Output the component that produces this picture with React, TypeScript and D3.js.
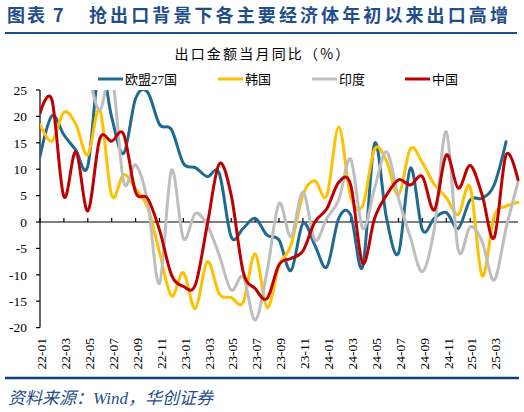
import * as d3 from 'd3'

// month categories as labelled on the axis
const categories = [
  '22-01', '22-02', '22-03', '22-04', '22-05', '22-06', '22-07', '22-08', '22-09', '22-10', '22-11', '22-12',
  '23-01', '23-02', '23-03', '23-04', '23-05', '23-06', '23-07', '23-08', '23-09', '23-10', '23-11', '23-12',
  '24-01', '24-02', '24-03', '24-04', '24-05', '24-06', '24-07', '24-08', '24-09', '24-10', '24-11', '24-12',
  '25-01', '25-02', '25-03', '25-04', '25-05',
]

const euValues = [
  12.4, 20.1, 16.5, 13.6, 10.6, 30.0, 19.8, 13.0, 23.4, 24.6, 18.5, 17.5,
  11.1, 10.3, 8.6, 9.2, -2.8, -1.2, 0.7, -2.5, -3.4, -9.2, -0.3, -4.4,
  -8.5, 0.7, 1.3, -8.5, 14.9, 0.7, -5.9, 10.2, -1.5, 0.7, 1.8, -1.2,
  4.2, 4.5, 7.0, 15.2,
]

const koreaValues = [
  18.5, 15.3, 20.8, 18.5, 12.7, 21.3, 5.0, 9.0, 6.3, 2.8, -5.7, -14.0,
  -9.6, -16.4, -7.5, -13.6, -14.3, -15.2, -6.0, -16.2, -8.3, -4.4, 5.1, 7.8,
  5.0, 18.0, 4.8, 3.1, 13.8, 11.5, 5.1, 13.9, 11.2, 7.1, 4.6, 1.4,
  6.6, -10.2, 1.0, 3.0, 3.7,
]

const indiaValues = [
  38.0, 30.0, 29.0, 33.0, 28.0, 21.2, 28.0, 7.6, 10.8, 3.9, -11.6, 9.8,
  -3.1, 1.6, -0.6, -6.3, -12.9, -10.4, -18.6, -9.4, 3.5, -2.8, 5.7, -3.4,
  0.7, 4.2, 11.9, -1.2, 6.4, 13.3, 4.5, -3.0, -9.4, -1.2, 17.1, -5.3,
  -0.9, -3.7, -11.0, -1.2, 7.6,
]

const chinaValues = [
  20.6, 23.1, 4.8, 13.3, 2.1, 15.7, 15.3, 16.6, 5.7, 4.5, -1.5, -10.0,
  -12.2, -11.9, -0.5, 11.0, 5.1, -9.4, -12.6, -14.5, -8.1, -6.9, -5.5, 0.0,
  2.5, 7.5, 7.0, -7.8, 0.7, 5.1, 8.0, 7.0, 8.6, 2.3, 12.7, 6.4,
  10.7, 5.1, -3.0, 12.7, 8.0,
]

const seriesNames = ['欧盟27国', '韩国', '印度', '中国']
const seriesColors = ['#1F6A90', '#FFC000', '#BEBEBE', '#C00000']
const seriesValues = [euValues, koreaValues, indiaValues, chinaValues]

const yTicks = [25, 20, 15, 10, 5, 0, -5, -10, -15, -20]

const width = 524
const height = 412
const plotLeft = 40
const plotRight = 518
const plotTop = 90
const plotBottom = 327.6

const serif = "'Liberation Serif', 'Noto Sans CJK SC', serif"
const cjk = "'Noto Sans CJK SC', sans-serif"
const navy = '#1F4E8C'

export default function App() {
  const x = d3.scalePoint<string>().domain(categories).range([plotLeft, plotRight])
  const y = d3.scaleLinear().domain([-20, 25]).range([plotBottom, plotTop])

  const line = d3
    .line<number>()
    .x((_, i) => x(categories[i]) ?? 0)
    .y(d => y(d))
    .curve(d3.curveCardinal.tension(0))

  const xTickCats = categories.filter((_, i) => i % 2 === 0 && i <= 38)

  const legendX = [98, 218, 312, 405]

  return (
    <svg
      width={width}
      height={height}
      style={{ position: 'absolute', left: 0, top: 0, background: '#fff' }}
    >
      <defs>
        <clipPath id="plot-clip">
          <rect x={plotLeft} y={y(25)} width={plotRight - plotLeft + 2} height={y(-20) - y(25)} />
        </clipPath>
      </defs>

      {/* title */}
      <text x={7} y={22} fontFamily={cjk} fontWeight={700} fontSize={18} fill={navy} letterSpacing={2}>
        图表 7
      </text>
      <text x={89} y={22} fontFamily={cjk} fontWeight={700} fontSize={18} fill={navy} letterSpacing={3.1}>
        抢出口背景下各主要经济体年初以来出口高增
      </text>
      <line x1={5} x2={517} y1={33} y2={33} stroke={navy} strokeWidth={2} />

      {/* subtitle */}
      <text x={263} y={59} textAnchor="middle" fontFamily={cjk} fontSize={14} fill="#000" letterSpacing={2.2}>
        出口金额当月同比（%）
      </text>

      {/* legend */}
      {seriesNames.map((name, k) => (
        <g key={name} transform={`translate(${legendX[k]},79)`}>
          <line x1={0} x2={25} y1={0} y2={0} stroke={seriesColors[k]} strokeWidth={3} />
          <text x={27} y={4.5} fontFamily={serif} fontSize={13} fill="#000">
            {name}
          </text>
        </g>
      ))}

      {/* y axis */}
      <line x1={plotLeft} x2={plotLeft} y1={y(25)} y2={y(-20)} stroke="#000" strokeWidth={1.2} />
      {yTicks.map(t => (
        <g key={t}>
          <line x1={plotLeft - 4} x2={plotLeft} y1={y(t)} y2={y(t)} stroke="#000" strokeWidth={1.2} />
          <text x={27} y={y(t)} dy="0.35em" textAnchor="end" fontFamily={serif} fontSize={13.5} fill="#000">
            {t}
          </text>
        </g>
      ))}

      {/* x axis at zero */}
      <line x1={plotLeft} x2={plotRight} y1={y(0)} y2={y(0)} stroke="#000" strokeWidth={1.2} />
      {xTickCats.map(c => (
        <line key={c} x1={x(c)} x2={x(c)} y1={y(0)} y2={y(0) - 4} stroke="#000" strokeWidth={1.2} />
      ))}
      {xTickCats.map(c => (
        <text
          key={c}
          transform={`translate(${(x(c) ?? 0) + 1.5},338) rotate(-90)`}
          dy="0.35em"
          textAnchor="end"
          fontFamily={serif}
          fontSize={13.5}
          fill="#000"
        >
          {c}
        </text>
      ))}

      {/* series */}
      <g clipPath="url(#plot-clip)">
        {seriesValues.map((vals, k) => (
          <path
            key={seriesNames[k]}
            d={line(vals) ?? ''}
            fill="none"
            stroke={seriesColors[k]}
            strokeWidth={3}
            strokeLinejoin="round"
            strokeLinecap="round"
          />
        ))}
      </g>

      {/* footer */}
      <line x1={5} x2={519} y1={378} y2={378} stroke="#0F3F7F" strokeWidth={2.5} />
      <text x={8} y={404} fontFamily={serif} fontStyle="italic" fontSize={17} fill={navy}>
        资料来源：Wind，华创证券
      </text>
    </svg>
  )
}
